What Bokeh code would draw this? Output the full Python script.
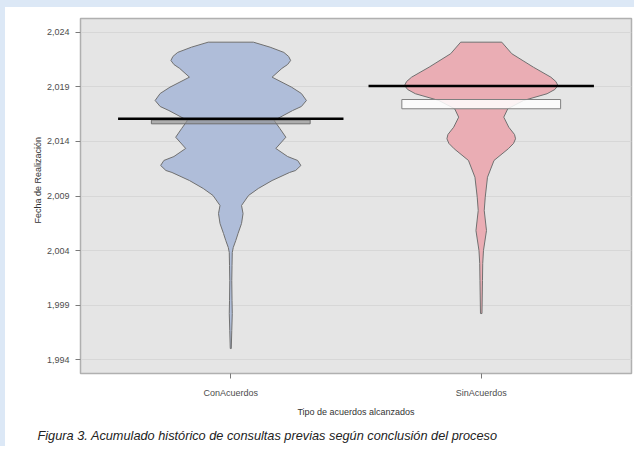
from bokeh.plotting import figure
from bokeh.models import FixedTicker, NumeralTickFormatter, Range1d, Title
from bokeh.embed import file_html
from bokeh.resources import INLINE

categories = ["ConAcuerdos", "SinAcuerdos"]

con_years = [2023.11, 2022.65, 2022.17, 2021.80, 2021.43, 2021.06, 2020.70, 2019.90,
             2018.98, 2018.40, 2017.76, 2017.21, 2016.84, 2015.93, 2015.19, 2014.39,
             2013.36, 2012.62, 2012.26, 2011.80, 2011.34, 2011.16, 2010.42, 2009.69,
             2009.05, 2008.13, 2007.39, 2006.48, 2005.56, 2004.92, 2004.28, 2003.82,
             2002.62, 2001.25, 1999.41, 1998.22, 1996.66, 1995.01]
con_half_width = [0.090, 0.157, 0.212, 0.231, 0.239, 0.227, 0.204, 0.165,
                  0.243, 0.282, 0.302, 0.282, 0.247, 0.173, 0.196, 0.220,
                  0.180, 0.227, 0.267, 0.280, 0.259, 0.235, 0.165, 0.110,
                  0.071, 0.043, 0.049, 0.043, 0.029, 0.020, 0.010, 0.006,
                  0.005, 0.004, 0.005, 0.006, 0.004, 0.002]

sin_years = [2023.11, 2022.05, 2020.82, 2019.90, 2019.50, 2019.14, 2018.77, 2018.38,
             2017.76, 2017.00, 2016.23, 2015.31, 2014.64, 2014.25, 2013.82, 2013.33,
             2012.26, 2010.72, 2008.89, 2007.67, 2005.83, 2004.00, 2002.81, 2001.25,
             1998.22]
sin_half_width = [0.082, 0.122, 0.208, 0.278, 0.298, 0.306, 0.294, 0.263,
                  0.169, 0.106, 0.090, 0.110, 0.133, 0.137, 0.129, 0.108,
                  0.051, 0.025, 0.016, 0.012, 0.021, 0.009, 0.006, 0.005,
                  0.003]

means = [2016.08, 2019.10]
band_low = [2015.62, 2017.00]
band_high = [2015.97, 2017.85]
y_ticks = [1994, 1999, 2004, 2009, 2014, 2019, 2024]

violin_fill = ["#afbdd9", "#eaadb4"]
band_fill = ["#8f8f8f", "#ffffff"]
band_alpha = [0.65, 0.85]
band_line = ["#6f6f6f", "#808080"]

FONT = "Liberation Sans"

p = figure(width=634, height=446, output_backend="svg", toolbar_location=None,
           x_range=Range1d(0.4, 2.6), y_range=Range1d(1992.72, 2025.28),
           min_border_left=75, min_border_top=11, min_border_right=8, min_border_bottom=80)
p.styles = {"border-top": "7px solid #dce8f6", "border-left": "5px solid #dce8f6"}
p.background_fill_color = "#e5e5e5"
p.border_fill_color = "white"
p.outline_line_color = "#b0b0b0"
p.outline_line_width = 1.5

profiles = [(con_years, con_half_width), (sin_years, sin_half_width)]
for i, (ys, hws) in enumerate(profiles):
    cx = i + 1
    xs = [cx + h for h in hws] + [cx - h for h in reversed(hws)]
    yy = list(ys) + list(reversed(ys))
    p.patch(xs, yy, fill_color=violin_fill[i], fill_alpha=1.0,
            line_color="#707070", line_width=1)

for i in range(len(categories)):
    cx = i + 1
    p.quad(left=[cx - 0.317], right=[cx + 0.317], bottom=[band_low[i]], top=[band_high[i]],
           fill_color=band_fill[i], fill_alpha=band_alpha[i], line_color=band_line[i], line_width=1)
    p.segment(x0=[cx - 0.45], x1=[cx + 0.45], y0=[means[i]], y1=[means[i]],
              line_color="black", line_width=2.5)

# axes
p.yaxis.ticker = FixedTicker(ticks=y_ticks)
p.yaxis.formatter = NumeralTickFormatter(format="0,0")
p.xaxis.ticker = FixedTicker(ticks=[1, 2])
p.xaxis.major_label_overrides = {i + 1: c for i, c in enumerate(categories)}

for ax in (p.xaxis, p.yaxis):
    ax.axis_line_color = None
    ax.major_tick_line_color = "#7a7a7a"
    ax.major_tick_out = 5
    ax.major_tick_in = 0
    ax.minor_tick_line_color = None
    ax.major_label_text_font = FONT
    ax.major_label_text_font_size = "9px"
    ax.major_label_text_color = "#4d4d4d"
    ax.axis_label_text_font = FONT
    ax.axis_label_text_font_size = "9px"
    ax.axis_label_text_font_style = "normal"
    ax.axis_label_text_color = "#333333"

p.yaxis.major_label_standoff = 6
p.xaxis.major_label_standoff = 9
p.xaxis.axis_label = "Tipo de acuerdos alcanzados"
p.xaxis.axis_label_standoff = 6

p.xgrid.visible = False
p.ygrid.grid_line_color = "#d7d7d7"
p.ygrid.grid_line_width = 1

ytitle = Title(text="Fecha de Realización", align="left", offset=150, standoff=1,
               text_font=FONT, text_font_size="9px", text_font_style="normal",
               text_color="#333333")
p.add_layout(ytitle, "left")

caption = Title(text="Figura 3. Acumulado histórico de consultas previas según conclusión del proceso",
                align="left", offset=-43, standoff=12,
                text_font=FONT, text_font_size="12.75px", text_font_style="italic",
                text_color="#222222")
p.add_layout(caption, "below")

open("out.html", "w").write(file_html(p, INLINE))
